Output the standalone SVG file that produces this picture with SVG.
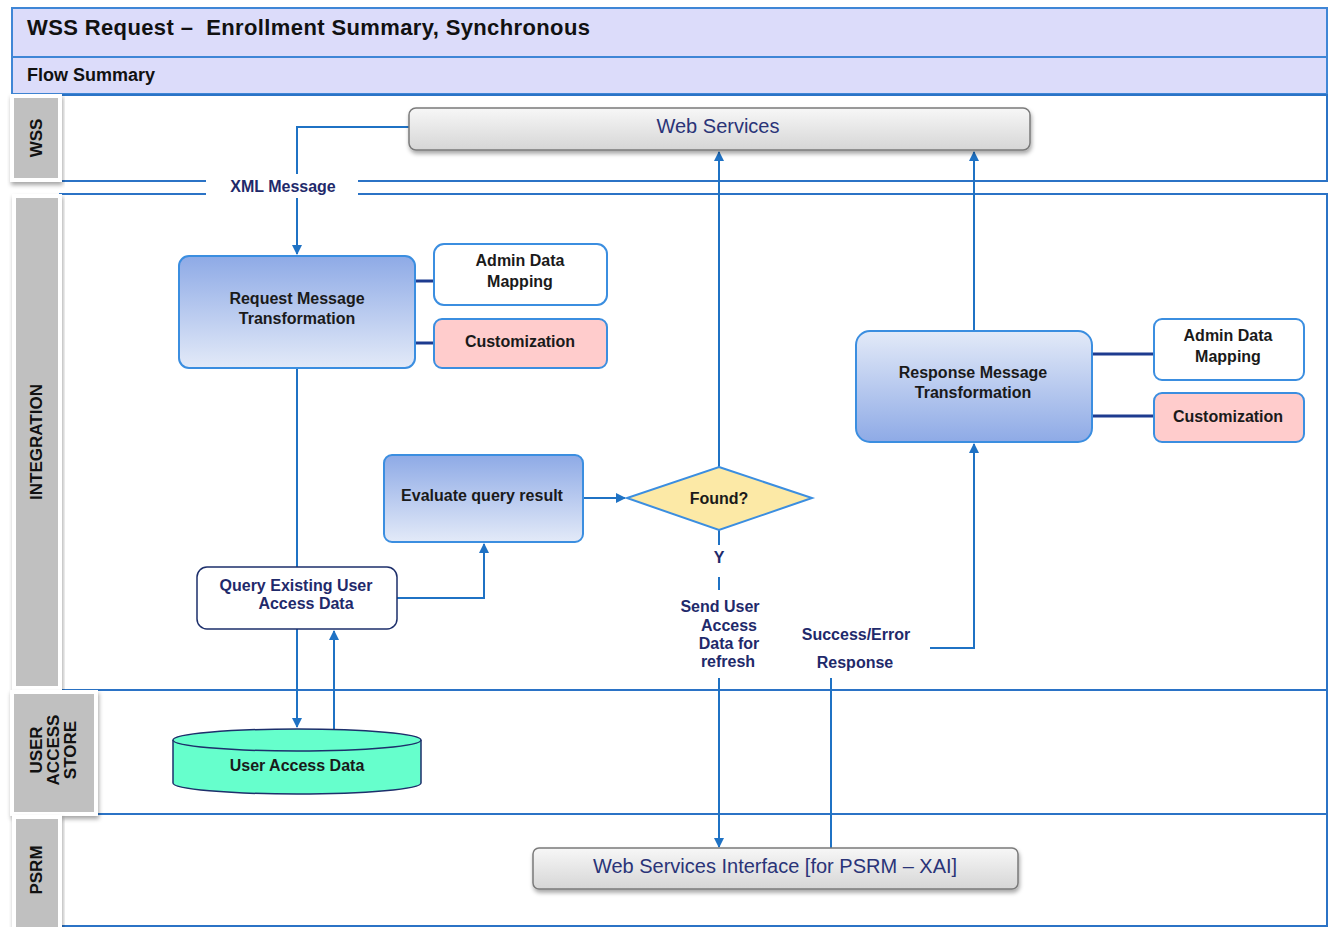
<svg xmlns="http://www.w3.org/2000/svg" width="1329" height="927" viewBox="0 0 1329 927">
  <defs>
    <linearGradient id="gBlueDown" x1="0" y1="0" x2="0" y2="1">
      <stop offset="0" stop-color="#8eaae6"/>
      <stop offset="1" stop-color="#e3eaf8"/>
    </linearGradient>
    <linearGradient id="gBlueUp" x1="0" y1="0" x2="0" y2="1">
      <stop offset="0" stop-color="#e3eaf8"/>
      <stop offset="1" stop-color="#8eaae6"/>
    </linearGradient>
    <linearGradient id="gGray" x1="0" y1="0" x2="0" y2="1">
      <stop offset="0" stop-color="#f7f7f7"/>
      <stop offset="1" stop-color="#d6d6d6"/>
    </linearGradient>
    <filter id="shadow" x="-10%" y="-20%" width="120%" height="160%">
      <feDropShadow dx="1" dy="3" stdDeviation="2" flood-color="#000" flood-opacity="0.35"/>
    </filter>
    <marker id="arrow" viewBox="0 0 10 10" refX="9" refY="5" markerWidth="10" markerHeight="10" markerUnits="userSpaceOnUse" orient="auto">
      <path d="M0,0 L10,5 L0,10 Z" fill="#1f72c4"/>
    </marker>
  </defs>
  <style>
    text { font-family: "Liberation Sans", Arial, sans-serif; }
    .band { fill: #dcdcfa; stroke: #3f86d6; stroke-width: 2; }
    .lane { fill: #fff; stroke: #2b73c6; stroke-width: 2; }
    .lbl { fill: #c0c0c0; stroke: #fff; stroke-width: 4; filter: url(#shadow); }
    .lbltxt { font-size: 17px; font-weight: bold; fill: #111; text-anchor: middle; }
    .proc { stroke: #3b8ee0; stroke-width: 2; }
    .t { font-size: 16px; font-weight: bold; fill: #1a1a1a; text-anchor: middle; }
    .tn { font-size: 16px; font-weight: bold; fill: #1f2a6b; text-anchor: middle; }
    .svc { fill: url(#gGray); stroke: #7a7a7a; stroke-width: 1.5; filter: url(#shadow); }
    .svctxt { font-size: 20px; fill: #2a3478; text-anchor: middle; }
    .conn { fill: none; stroke: #1f72c4; stroke-width: 2; }
    .tie { stroke: #1d3b8f; stroke-width: 3; }
  </style>

  <!-- header bands -->
  <g id="header">
    <rect class="band" x="12" y="8" width="1315" height="49"/>
    <rect class="band" x="12" y="57" width="1315" height="37"/>
    <text x="27" y="35" font-size="22" font-weight="bold" fill="#111" textLength="563" xml:space="preserve">WSS Request –  Enrollment Summary, Synchronous</text>
    <text x="27" y="81" font-size="18" font-weight="bold" fill="#111">Flow Summary</text>
  </g>

  <!-- swimlanes -->
  <g id="lanes">
    <rect class="lane" x="60" y="95" width="1267" height="86"/>
    <rect class="lane" x="60" y="194" width="1267" height="496"/>
    <rect class="lane" x="96" y="690" width="1231" height="124"/>
    <rect class="lane" x="60" y="814" width="1267" height="112"/>
  </g>
  <g id="lane-wss">
    <rect class="lbl" x="12" y="96" width="48" height="84"/>
    <text class="lbltxt" transform="translate(42,138) rotate(-90)">WSS</text>
  </g>
  <g id="lane-integration">
    <rect class="lbl" x="14" y="196" width="46" height="492"/>
    <text class="lbltxt" transform="translate(42,442) rotate(-90)">INTEGRATION</text>
  </g>
  <g id="lane-store">
    <rect class="lbl" x="12" y="692" width="84" height="122"/>
    <text class="lbltxt" font-size="15" transform="translate(42,750) rotate(-90)">USER</text>
    <text class="lbltxt" font-size="15" transform="translate(59,750) rotate(-90)">ACCESS</text>
    <text class="lbltxt" font-size="15" transform="translate(76,750) rotate(-90)">STORE</text>
  </g>
  <g id="lane-psrm">
    <rect class="lbl" x="14" y="817" width="46" height="112"/>
    <text class="lbltxt" transform="translate(42,870) rotate(-90)">PSRM</text>
  </g>

  <!-- connectors -->
  <g id="connectors">
    <polyline class="conn" points="409,127 297,127 297,254" marker-end="url(#arrow)"/>
    <line class="conn" x1="297" y1="368" x2="297" y2="567"/>
    <line class="conn" x1="297" y1="629" x2="297" y2="727" marker-end="url(#arrow)"/>
    <line class="conn" x1="334" y1="729" x2="334" y2="631" marker-end="url(#arrow)"/>
    <polyline class="conn" points="397,598 484,598 484,544" marker-end="url(#arrow)"/>
    <line class="conn" x1="583" y1="498" x2="625" y2="498" marker-end="url(#arrow)"/>
    <line class="conn" x1="719" y1="467" x2="719" y2="152" marker-end="url(#arrow)"/>
    <line class="conn" x1="719" y1="530" x2="719" y2="545"/>
    <line class="conn" x1="719" y1="577" x2="719" y2="590"/>
    <line class="conn" x1="719" y1="678" x2="719" y2="847" marker-end="url(#arrow)"/>
    <line class="conn" x1="831" y1="850" x2="831" y2="678"/>
    <polyline class="conn" points="930,648 974,648 974,444" marker-end="url(#arrow)"/>
    <line class="conn" x1="974" y1="331" x2="974" y2="152" marker-end="url(#arrow)"/>
    <!-- ties to mapping/customization boxes -->
    <line class="tie" x1="415" y1="281" x2="434" y2="281"/>
    <line class="tie" x1="415" y1="343" x2="434" y2="343"/>
    <line class="tie" x1="1092" y1="354" x2="1154" y2="354"/>
    <line class="tie" x1="1092" y1="416" x2="1154" y2="416"/>
    <!-- labels on connectors -->
    <rect x="206" y="174" width="152" height="24" fill="#fff"/>
    <text class="tn" x="283" y="192" font-size="15">XML Message</text>
    <text class="tn" x="719" y="563" font-size="15">Y</text>
    <text class="tn" x="720" y="612" font-size="15">Send User</text>
    <text class="tn" x="729" y="631" font-size="15">Access</text>
    <text class="tn" x="729" y="649" font-size="15">Data for</text>
    <text class="tn" x="728" y="667" font-size="15">refresh</text>
    <text class="tn" x="856" y="640" font-size="15">Success/Error</text>
    <text class="tn" x="855" y="668" font-size="15">Response</text>
  </g>

  <!-- nodes -->
  <g id="web-services">
    <rect class="svc" x="409" y="108" width="621" height="42" rx="7"/>
    <text class="svctxt" x="718" y="133">Web Services</text>
  </g>
  <g id="request-transform">
    <rect class="proc" x="179" y="256" width="236" height="112" rx="10" fill="url(#gBlueDown)"/>
    <text class="t" x="297" y="304">Request Message</text>
    <text class="t" x="297" y="324">Transformation</text>
  </g>
  <g id="admin-map-req">
    <rect class="proc" x="434" y="244" width="173" height="61" rx="10" fill="#fff"/>
    <text class="t" x="520" y="266">Admin Data</text>
    <text class="t" x="520" y="287">Mapping</text>
  </g>
  <g id="custom-req">
    <rect class="proc" x="434" y="319" width="173" height="49" rx="8" fill="#ffcccc"/>
    <text class="t" x="520" y="347">Customization</text>
  </g>
  <g id="evaluate">
    <rect class="proc" x="384" y="455" width="199" height="87" rx="8" fill="url(#gBlueDown)"/>
    <text class="t" x="482" y="501">Evaluate query result</text>
  </g>
  <g id="found">
    <polygon points="719,467 812,498 719,530 627,498" fill="#fce9a6" stroke="#3b8ee0" stroke-width="2"/>
    <text class="t" x="719" y="504">Found?</text>
  </g>
  <g id="query-existing">
    <rect x="197" y="567" width="200" height="62" rx="10" fill="#fff" stroke="#1d2f6b" stroke-width="1.5"/>
    <text class="tn" x="296" y="591">Query Existing User</text>
    <text class="tn" x="306" y="609">Access Data</text>
  </g>
  <g id="user-access-data">
    <path d="M173,740 L173,783 A124,11 0 0 0 421,783 L421,740" fill="#66ffcc" stroke="#1d2f6b" stroke-width="1.5"/>
    <ellipse cx="297" cy="740" rx="124" ry="11" fill="#66ffcc" stroke="#1d2f6b" stroke-width="1.5"/>
    <text class="t" x="297" y="771">User Access Data</text>
  </g>
  <g id="response-transform">
    <rect class="proc" x="856" y="331" width="236" height="111" rx="14" fill="url(#gBlueUp)"/>
    <text class="t" x="973" y="378">Response Message</text>
    <text class="t" x="973" y="398">Transformation</text>
  </g>
  <g id="admin-map-resp">
    <rect class="proc" x="1154" y="319" width="150" height="61" rx="8" fill="#fff"/>
    <text class="t" x="1228" y="341">Admin Data</text>
    <text class="t" x="1228" y="362">Mapping</text>
  </g>
  <g id="custom-resp">
    <rect class="proc" x="1154" y="393" width="150" height="49" rx="8" fill="#ffcccc"/>
    <text class="t" x="1228" y="422">Customization</text>
  </g>
  <g id="ws-interface">
    <rect class="svc" x="533" y="848" width="485" height="41" rx="6"/>
    <text class="svctxt" x="775" y="873">Web Services Interface [for PSRM – XAI]</text>
  </g>
</svg>
